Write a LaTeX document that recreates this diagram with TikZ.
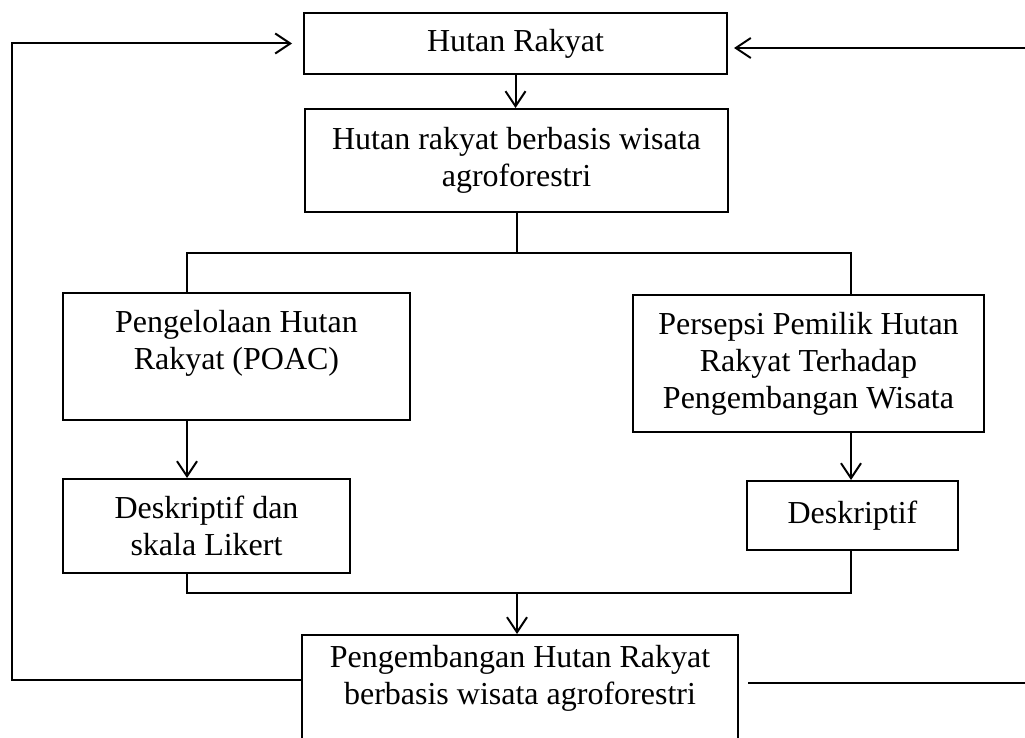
\documentclass[tikz,border=0pt]{standalone}
\usepackage{fontspec}
\setmainfont{Liberation Serif}
\usetikzlibrary{arrows.meta}

\begin{document}
\begin{tikzpicture}[x=1pt, y=-1pt, line width=2pt, >={Straight Barb[length=15pt, width=20pt]},
        every node/.style={font=\fontsize{32}{37}\selectfont},
        kotak/.style={draw, inner sep=0pt, align=center},
        teks/.style={inner sep=0pt, align=center}]
        % Batas gambar
        \useasboundingbox (0,0) rectangle (1025,738);
        \clip (0,0) rectangle (1025,738);

        % Kotak utama
        \node[kotak, minimum width=423, minimum height=61] (hr) at (515.5,43.5) {Hutan Rakyat};
        \node[kotak, minimum width=423, minimum height=103] (hrw) at (516.5,160.5) {Hutan rakyat berbasis wisata\\agroforestri};

        % Dua cabang
        \node[kotak, minimum width=347, minimum height=127] (kelola) at (236.5,356.5) {};
        \node[teks, anchor=north] (tkelola) at ([yshift=-17pt]kelola.north) {Pengelolaan Hutan\\Rakyat (POAC)};
        \node[kotak, minimum width=351, minimum height=137] (persepsi) at (808.5,363.5) {Persepsi Pemilik Hutan\\Rakyat Terhadap\\Pengembangan Wisata};

        % Metode analisis
        \node[kotak, minimum width=287, minimum height=94] (likert) at (206.5,526) {Deskriptif dan\\skala Likert};
        \node[kotak, minimum width=211, minimum height=69] (deskriptif) at (852.5,515.5) {Deskriptif};

        % Kotak bawah (terpotong di tepi)
        \node[kotak, minimum width=436, minimum height=130] (kembang) at (520,700) {};
        \node[teks, anchor=north] (tkembang) at ([yshift=-10pt]kembang.north) {Pengembangan Hutan Rakyat\\berbasis wisata agroforestri};

        % Titik bantu
        \coordinate (kiri) at (187,253);
        \coordinate (kanan) at (851,253);
        \coordinate (gabung) at (517,593);
        \coordinate (kiribawah) at (12,680);
        \coordinate (kananatas) at (1025,48);
        \coordinate (kananbawah) at (1025,683);

        % Panah dan garis
        \draw[->] (hr.south) -- (hr.south |- hrw.north);
        \draw (hrw.south) -- (hrw.south |- kiri);
        \draw (kiri |- kelola.north) -- (kiri) -- (kanan) -- (kanan |- persepsi.north);
        \draw[->] (kiri |- kelola.south) -- (kiri |- likert.north);
        \draw[->] (kanan |- persepsi.south) -- (kanan |- deskriptif.north);
        \draw (kiri |- likert.south) |- (gabung) -| (kanan |- deskriptif.south);
        \draw[->] (gabung) -- (gabung |- kembang.north);

        % Umpan balik
        \draw[->, shorten >=11pt] (kembang.west |- kiribawah) -- (kiribawah) |- (hr.west);
        \draw[->, shorten >=6pt] (kananatas) -- (kananatas -| hr.east);
        \draw ([xshift=9pt]kembang.east |- kananbawah) -- (kananbawah);
\end{tikzpicture}
\end{document}
